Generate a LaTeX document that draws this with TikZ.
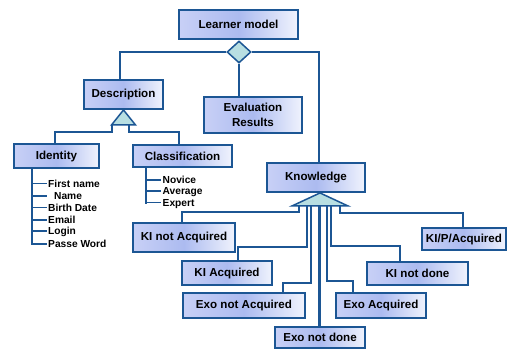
\documentclass[tikz,border=0pt]{standalone}
\usepackage{fontspec}
\setmainfont{Liberation Sans}
\usetikzlibrary{shapes.geometric,shadows,calc}
\definecolor{edge}{HTML}{1C5694}
\definecolor{boxleft}{HTML}{C8D0F6}
\definecolor{boxmid}{HTML}{ACBBF0}
\definecolor{boxright}{HTML}{F0F3FD}
\definecolor{tri}{HTML}{B8DFE2}
\tikzset{
  box/.style={draw=edge, line width=1.9pt, left color=boxleft, right color=boxright,
    middle color=boxmid, inner sep=0pt, align=center,
    font=\fontsize{11.6}{15}\selectfont\bfseries,
    drop shadow={shadow xshift=1.2pt, shadow yshift=-1.2pt, fill=black!30, opacity=0.6}},
  conn/.style={draw=edge, line width=1.8pt},
  thickconn/.style={draw=edge, line width=3pt},
  tick/.style={draw=edge, line width=1.9pt},
  item/.style={inner sep=0pt, font=\fontsize{10.2}{12}\selectfont\bfseries},
  trifill/.style={draw=edge, line width=1.5pt, fill=tri, line join=miter},
}
\begin{document}
\begin{tikzpicture}[x=1pt, y=-1pt]
\useasboundingbox (0,0) rectangle (507,349);

% class boxes
\node[box, minimum width=119, minimum height=29] (learner) at (238.5,24.5) {Learner model};
\node[box, minimum width=79, minimum height=29] (desc) at (123.5,94.5) {Description};
\node[box, minimum width=98, minimum height=36] (eval) at (253,115) {Evaluation\\Results};
\node[box, minimum width=85, minimum height=24] (identity) at (56.5,156) {Identity};
\node[box, minimum width=99, minimum height=22] (classif) at (182.5,156) {Classification};
\node[box, minimum width=98, minimum height=29] (know) at (316,177.5) {Knowledge};
\node[box, minimum width=102, minimum height=29] (kinotacq) at (184,237.5) {KI not Acquired};
\node[box, minimum width=90, minimum height=24] (kiacq) at (227,273) {KI Acquired};
\node[box, minimum width=122, minimum height=25] (exonotacq) at (244,305.5) {Exo not Acquired};
\node[box, minimum width=90, minimum height=21] (exonotdone) at (320,337.5) {Exo not done};
\node[box, minimum width=90, minimum height=25] (exoacq) at (381,305.5) {Exo Acquired};
\node[box, minimum width=101, minimum height=23] (kinotdone) at (417.5,273.5) {KI not done};
\node[box, minimum width=84, minimum height=22] (kip) at (464,239) {KI/P/Acquired};

% aggregation diamond under the learner model
\node[diamond, draw=edge, line width=1.5pt, fill=tri, inner sep=0pt,
      minimum width=24, minimum height=22] (dia) at (239,52) {};
\draw[conn] (dia.west) -| ([xshift=-3.5pt]desc.north);
\draw[conn] (dia.east) -| ([xshift=3pt]know.north);
\draw[conn] (dia.south) -- (dia.south |- eval.north);

% generalisation of Description
\coordinate (dapex) at (desc.south);
\coordinate (dl) at (112,124);
\coordinate (dr) at (129,124);
\draw[conn] (dl) -- ++(0,8) -| ([xshift=-1.5pt]identity.north);
\draw[conn] (dr) -- ++(0,8) -| ([xshift=-3.5pt]classif.north);
\draw[trifill] (dapex) -- ++(-12,15) -- ++(24,0) -- cycle;

% generalisation of Knowledge
\coordinate (kapex) at ([xshift=4pt]know.south);
\coordinate (k1) at (299,205);
\coordinate (k2) at (307,205);
\coordinate (k3) at (311,205);
\coordinate (k4) at (319.5,205);
\coordinate (k5) at (327,205);
\coordinate (k6) at (331,205);
\coordinate (k7) at (340,205);
\draw[conn] (k1) -- ++(0,7) -| ([xshift=-2pt]kinotacq.north);
\draw[conn] (k2) -- ++(0,42) -| ([xshift=11pt]kiacq.north);
\draw[conn] (k3) -- ++(0,78) -| ([xshift=39pt]exonotacq.north);
\draw[thickconn] (k4) -- (k4 |- exonotdone.north);
\draw[conn] (k5) -- ++(0,76) -| ([xshift=-28pt]exoacq.north);
\draw[conn] (k6) -- ++(0,41) -| ([xshift=-17.5pt]kinotdone.north);
\draw[conn] (k7) -- ++(0,8) -| ([xshift=-1pt]kip.north);
\draw[trifill] (kapex) -- ++(-28,13) -- ++(56,0) -- cycle;

% attributes of Identity
\coordinate (idtop) at (32,168.9);
\coordinate (idbot) at (32,245);
\draw[tick] (idtop) -- (idbot);
\foreach \n/\yy/\xx/\t in {a/187/48/First name, b/199.5/54/Name, c/211/48/Birth Date,
                          d/223.5/48/Email, e/234.5/48/Login, f/247.5/48/Passe Word} {
  \node[item, anchor=base west] (id\n) at (\xx,\yy) {\t};
  \draw[tick] ($(idtop |- id\n.base)+(0,-3.5)$) -- ++(15,0);
}

% attributes of Classification
\coordinate (cltop) at (146,166.9);
\coordinate (clbot) at (146,203.5);
\draw[tick] (cltop) -- (clbot);
\foreach \n/\yy/\t in {a/183.5/Novice, b/194.5/Average, c/206/Expert} {
  \node[item, anchor=base west] (cl\n) at (162.5,\yy) {\t};
  \draw[tick] ($(cltop |- cl\n.base)+(0,-3.5)$) -- ++(14.5,0);
}
\end{tikzpicture}
\end{document}
